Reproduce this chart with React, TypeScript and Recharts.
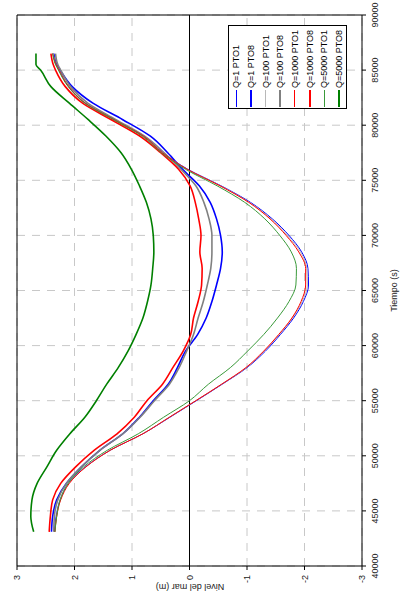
import { LineChart, Line, XAxis, YAxis, CartesianGrid, ReferenceLine, Legend } from 'recharts';

// tiempo (s) de cada muestra
const TIME = [43100, 44500, 46000, 47500, 49000, 50500, 52000, 53500, 55000, 56500, 58000, 59500, 61000, 62500, 64000, 65500, 67000, 68500, 70000, 71500, 73000, 74500, 76000, 77500, 79000, 80500, 82000, 83500, 85000, 85500, 86500];

// nivel del mar (m) por serie
const Q1_PTO1 = [2.35, 2.32, 2.25, 2.10, 1.81, 1.38, 0.81, 0.34, -0.12, -0.57, -1.00, -1.32, -1.58, -1.81, -1.98, -2.07, -2.06, -1.95, -1.73, -1.44, -1.06, -0.55, 0.03, 0.46, 0.80, 1.31, 1.81, 2.10, 2.27, 2.32, 2.37];
const Q1_PTO8 = [2.40, 2.38, 2.31, 2.14, 1.88, 1.56, 1.16, 0.87, 0.63, 0.37, 0.21, 0.07, -0.14, -0.29, -0.39, -0.47, -0.54, -0.57, -0.54, -0.47, -0.36, -0.17, 0.12, 0.38, 0.68, 1.16, 1.68, 2.04, 2.25, 2.31, 2.36];
const Q100_PTO1 = [2.34, 2.31, 2.25, 2.10, 1.80, 1.38, 0.81, 0.35, -0.11, -0.56, -0.99, -1.30, -1.56, -1.79, -1.96, -2.05, -2.04, -1.93, -1.70, -1.42, -1.04, -0.54, 0.04, 0.47, 0.81, 1.31, 1.81, 2.10, 2.27, 2.32, 2.37];
const Q100_PTO8 = [2.36, 2.35, 2.29, 2.14, 1.88, 1.56, 1.16, 0.86, 0.61, 0.35, 0.18, 0.05, -0.07, -0.15, -0.24, -0.31, -0.37, -0.39, -0.39, -0.34, -0.25, -0.11, 0.15, 0.44, 0.78, 1.28, 1.77, 2.07, 2.24, 2.29, 2.33];
const Q1000_PTO1 = [2.34, 2.31, 2.24, 2.09, 1.80, 1.38, 0.81, 0.35, -0.11, -0.56, -0.98, -1.29, -1.55, -1.78, -1.94, -2.02, -2.02, -1.90, -1.68, -1.40, -1.03, -0.53, 0.04, 0.47, 0.80, 1.31, 1.81, 2.10, 2.27, 2.32, 2.38];
const Q1000_PTO8 = [2.44, 2.42, 2.38, 2.24, 1.98, 1.66, 1.26, 0.96, 0.74, 0.47, 0.29, 0.11, -0.02, -0.07, -0.15, -0.21, -0.22, -0.18, -0.20, -0.16, -0.10, -0.01, 0.19, 0.50, 0.86, 1.36, 1.86, 2.16, 2.33, 2.37, 2.41];
const Q5000_PTO1 = [2.34, 2.31, 2.25, 2.11, 1.84, 1.43, 0.89, 0.45, 0.00, -0.33, -0.71, -1.01, -1.29, -1.53, -1.73, -1.85, -1.86, -1.77, -1.57, -1.31, -0.96, -0.48, 0.07, 0.49, 0.82, 1.32, 1.82, 2.11, 2.28, 2.33, 2.38];
const Q5000_PTO8 = [2.71, 2.76, 2.74, 2.65, 2.48, 2.31, 2.08, 1.82, 1.62, 1.44, 1.24, 1.07, 0.93, 0.81, 0.73, 0.67, 0.64, 0.62, 0.63, 0.67, 0.75, 0.87, 1.01, 1.19, 1.45, 1.76, 2.09, 2.41, 2.59, 2.67, 2.67];

const X_TICKS = [40000, 45000, 50000, 55000, 60000, 65000, 70000, 75000, 80000, 85000, 90000];
const Y_TICKS = [-3, -2, -1, 0, 1, 2, 3];

const SERIES = [
    { key: 'q1p1', name: 'Q=1 PTO1', values: Q1_PTO1, color: '#0000ff', width: 1 },
    { key: 'q1p8', name: 'Q=1 PTO8', values: Q1_PTO8, color: '#0000ff', width: 1.6 },
    { key: 'q100p1', name: 'Q=100 PTO1', values: Q100_PTO1, color: '#b8b8b8', width: 1 },
    { key: 'q100p8', name: 'Q=100 PTO8', values: Q100_PTO8, color: '#808080', width: 1.6 },
    { key: 'q1000p1', name: 'Q=1000 PTO1', values: Q1000_PTO1, color: '#ff0000', width: 1 },
    { key: 'q1000p8', name: 'Q=1000 PTO8', values: Q1000_PTO8, color: '#ff0000', width: 1.6 },
    { key: 'q5000p1', name: 'Q=5000 PTO1', values: Q5000_PTO1, color: '#3a9a3a', width: 1 },
    { key: 'q5000p8', name: 'Q=5000 PTO8', values: Q5000_PTO8, color: '#008000', width: 1.6 },
];

const FONT = '"Liberation Sans", Arial, sans-serif';

const data = TIME.map((t, i) => {
    const row: Record<string, number> = { t };
    SERIES.forEach(s => { row[s.key] = s.values[i]; });
    return row;
});

function LegendBox() {
    return (
        <div style={{
            width: 84,
            height: 119,
            boxSizing: 'border-box',
            border: '1px solid #000',
            background: '#fff',
            paddingLeft: 1,
            fontFamily: FONT,
            fontSize: 9,
            color: '#000',
        }}>
            {SERIES.map(s => (
                <div key={s.key} style={{ display: 'flex', alignItems: 'center', height: 14.66 }}>
                    <span style={{ display: 'inline-block', width: 17, borderTop: `${s.width > 1 ? 2 : 1}px solid ${s.color}`, marginRight: 2 }} />
                    <span style={{ whiteSpace: 'nowrap' }}>{s.name}</span>
                </div>
            ))}
        </div>
    );
}

export default function App() {
    return (
        <div style={{ position: 'absolute', left: 0, top: 0, width: 409, height: 592, overflow: 'hidden', background: '#fff' }}>
            {/* grafico apaisado, girado 90 grados */}
            <div style={{
                position: 'absolute',
                left: 0,
                top: 0,
                width: 592,
                height: 409,
                transformOrigin: '0 0',
                transform: 'translate(0px, 592px) rotate(-90deg)',
                fontFamily: FONT,
            }}>
                <LineChart width={592} height={409} data={data} margin={{ top: 17, right: 15, bottom: 0, left: 0 }}>
                    <CartesianGrid stroke="#c8c8c8" strokeDasharray="8 7" />
                    <XAxis
                        dataKey="t"
                        type="number"
                        domain={[40000, 90000]}
                        ticks={X_TICKS}
                        height={47}
                        tickSize={4}
                        tickMargin={6}
                        interval={0}
                        axisLine={{ stroke: '#000' }}
                        tickLine={{ stroke: '#000' }}
                        tick={{ fontSize: 9, fill: '#222', fontFamily: FONT }}
                        label={{ value: 'Tiempo (s)', position: 'insideBottom', offset: 12, fontSize: 9, fill: '#222', fontFamily: FONT }}
                    />
                    <YAxis
                        type="number"
                        domain={[-3, 3]}
                        ticks={Y_TICKS}
                        width={26}
                        tickSize={4}
                        tickMargin={5}
                        interval={0}
                        axisLine={{ stroke: '#000' }}
                        tickLine={{ stroke: '#000' }}
                        tick={{ fontSize: 9, fill: '#222', fontFamily: FONT }}
                    />
                    <ReferenceLine y={0} stroke="#000" />
                    <ReferenceLine y={3} stroke="#000" />
                    <ReferenceLine x={90000} stroke="#000" />
                    <Legend
                        layout="vertical"
                        align="center"
                        verticalAlign="middle"
                        content={() => <LegendBox />}
                        wrapperStyle={{ left: 483, top: 228, width: 84, height: 119 }}
                    />
                    {SERIES.map(s => (
                        <Line
                            key={s.key}
                            type="monotone"
                            dataKey={s.key}
                            name={s.name}
                            stroke={s.color}
                            strokeWidth={s.width}
                            dot={false}
                            isAnimationActive={false}
                        />
                    ))}
                </LineChart>
                <div style={{
                    position: 'absolute',
                    left: 5 - 60,
                    top: 189.5 - 5,
                    width: 120,
                    height: 10,
                    lineHeight: '10px',
                    fontSize: 9,
                    color: '#222',
                    textAlign: 'center',
                    transform: 'rotate(-90deg)',
                    whiteSpace: 'nowrap',
                }}>
                    Nivel del mar (m)
                </div>
            </div>
        </div>
    );
}
